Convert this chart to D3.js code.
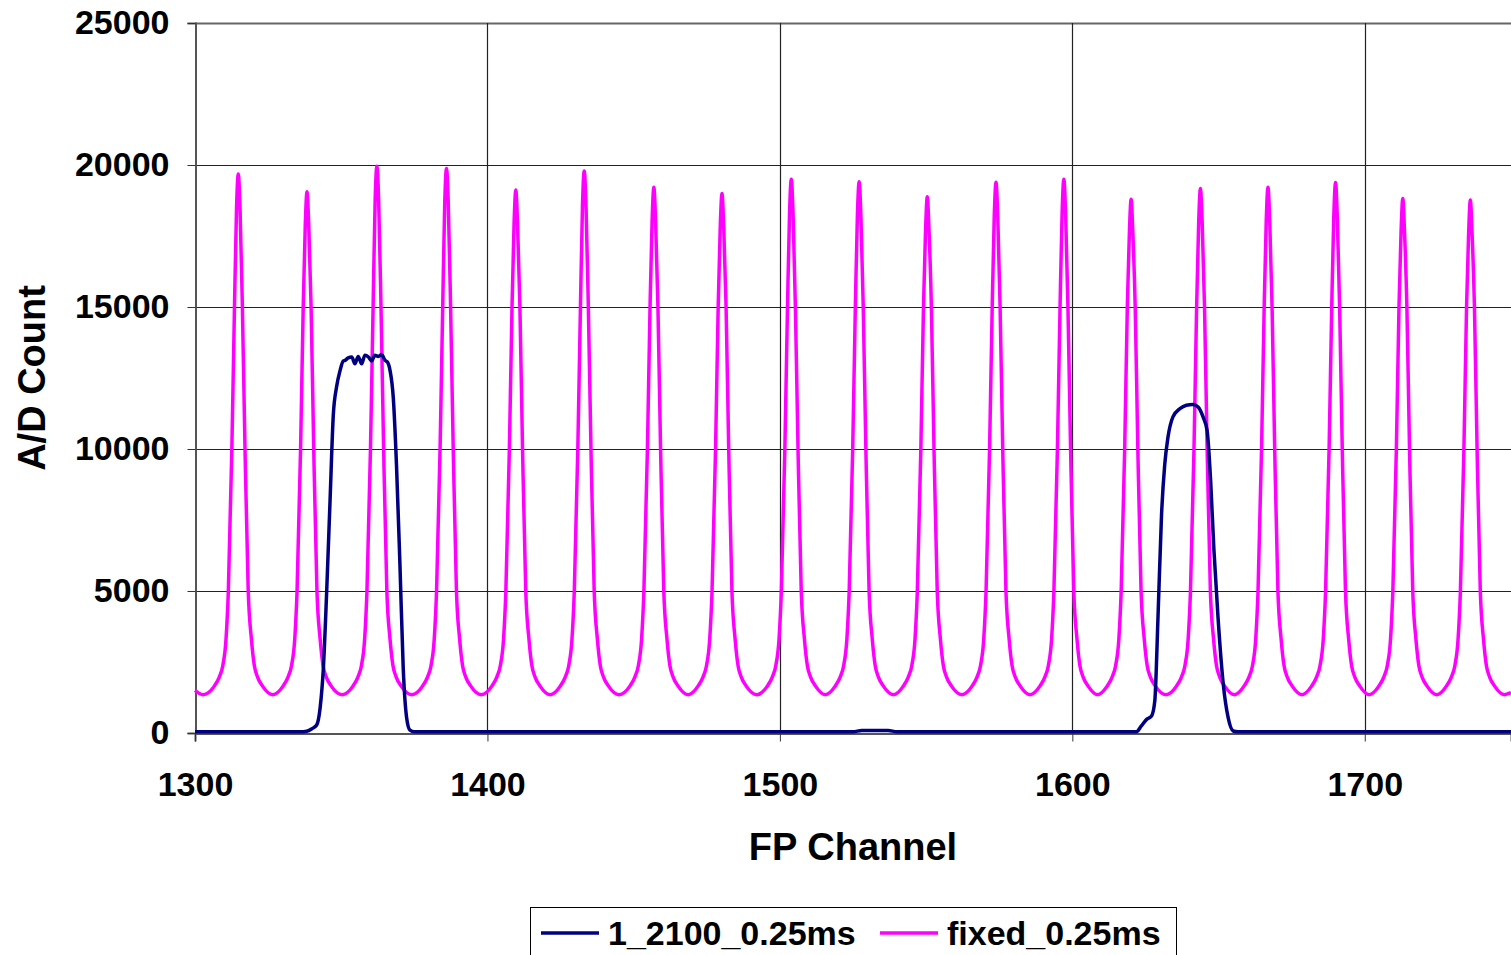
<!DOCTYPE html>
<html>
<head>
<meta charset="utf-8">
<script src="https://cdn.jsdelivr.net/npm/d3@7"></script>
<style>
	body { margin: 0; background: #fff; }
	svg { display: block; font-family: "Liberation Sans", Arial, sans-serif; font-weight: bold; }
</style>
</head>
<body>
<div id="chart"></div>
<script>
// axis ticks
var xTicks = [1300, 1400, 1500, 1600, 1700];
var yTicks = [0, 5000, 10000, 15000, 20000, 25000];
var seriesNames = ["1_2100_0.25ms", "fixed_0.25ms"];

// series 1_2100_0.25ms : [FP channel, A/D count]
var scanCounts = [
	[1300, 40], [1336, 40], [1338.2, 60], [1340, 150], [1341.6, 280], [1342.8, 900],
	[1343.9, 2290], [1345.0, 4910], [1346.2, 8240], [1347.3, 11210], [1348.4, 12180],
	[1349.6, 12760], [1350.7, 13100], [1351.3, 13120], [1352.4, 13210], [1353.6, 13240],
	[1354.7, 13000], [1355.8, 13260], [1357.0, 13000], [1358.1, 13300], [1359.3, 13240],
	[1360.4, 13100], [1361.5, 13300], [1362.7, 13260], [1363.8, 13330], [1365.0, 13120],
	[1365.8, 13060], [1366.7, 12760], [1367.8, 11810], [1368.9, 9440], [1370.1, 5860],
	[1371.2, 2290], [1372.4, 510], [1373.5, 100], [1375, 40],
	[1525, 40], [1528, 90], [1537, 90], [1540, 40],
	[1621.9, 40], [1623.6, 250], [1625.4, 480], [1627.1, 600], [1628.2, 1130],
	[1629.3, 4100], [1630.5, 7680], [1631.6, 9460], [1632.7, 10410], [1634.4, 11130],
	[1636.8, 11420], [1639.0, 11540], [1641.3, 11570], [1643.0, 11480], [1644.7, 11130],
	[1646.1, 10640], [1647.3, 8860], [1648.4, 6480], [1649.8, 4100], [1651.6, 1730],
	[1653.3, 530], [1655.0, 70], [1656.7, 40], [1750, 40]
];

// series fixed_0.25ms : [FP channel, A/D count]
var fixedCounts = [
	[1300, 1500], [1302.7, 1350],
	[1306.6,1650],[1308.3,1970],[1309.5,2370],[1310.6,3300],[1311.4,5000],[1312.6,10000],[1313.5,15000],[1314.2,18480],[1314.8,19680],[1315.4,18480],[1316.2,15000],[1317.1,10000],[1318.2,5000],[1319.3,3300],[1320.3,2370],[1321.4,1970],[1323.1,1650],[1326.6,1350],
	[1330.1,1650],[1331.8,1970],[1333.0,2370],[1334.1,3300],[1334.9,5000],[1336.1,10000],[1337.0,15000],[1337.7,17860],[1338.3,19060],[1338.9,17860],[1339.7,15000],[1340.6,10000],[1341.7,5000],[1342.8,3300],[1343.8,2370],[1344.9,1970],[1346.6,1650],[1350.3,1350],
	[1354.0,1650],[1355.7,1970],[1356.9,2370],[1358.0,3300],[1358.8,5000],[1360.0,10000],[1360.9,15000],[1361.6,18760],[1362.2,19960],[1362.8,18760],[1363.6,15000],[1364.5,10000],[1365.6,5000],[1366.7,3300],[1367.7,2370],[1368.8,1970],[1370.5,1650],[1374.1,1350],
	[1377.8,1650],[1379.5,1970],[1380.7,2370],[1381.8,3300],[1382.6,5000],[1383.8,10000],[1384.7,15000],[1385.4,18680],[1386.0,19880],[1386.6,18680],[1387.4,15000],[1388.3,10000],[1389.4,5000],[1390.5,3300],[1391.5,2370],[1392.6,1970],[1394.3,1650],[1397.9,1350],
	[1401.5,1650],[1403.2,1970],[1404.4,2370],[1405.5,3300],[1406.3,5000],[1407.5,10000],[1408.4,15000],[1409.1,17920],[1409.7,19120],[1410.3,17920],[1411.1,15000],[1412.0,10000],[1413.1,5000],[1414.2,3300],[1415.2,2370],[1416.3,1970],[1418.0,1650],[1421.4,1350],
	[1424.9,1650],[1426.6,1970],[1427.8,2370],[1428.9,3300],[1429.7,5000],[1430.9,10000],[1431.8,15000],[1432.5,18590],[1433.1,19790],[1433.7,18590],[1434.5,15000],[1435.4,10000],[1436.5,5000],[1437.6,3300],[1438.6,2370],[1439.7,1970],[1441.4,1650],[1445.0,1350],
	[1448.7,1650],[1450.4,1970],[1451.6,2370],[1452.7,3300],[1453.5,5000],[1454.7,10000],[1455.6,15000],[1456.3,18020],[1456.9,19220],[1457.5,18020],[1458.3,15000],[1459.2,10000],[1460.3,5000],[1461.4,3300],[1462.4,2370],[1463.5,1970],[1465.2,1650],[1468.6,1350],
	[1472.0,1650],[1473.7,1970],[1474.9,2370],[1476.0,3300],[1476.8,5000],[1478.0,10000],[1478.9,15000],[1479.6,17800],[1480.2,19000],[1480.8,17800],[1481.6,15000],[1482.5,10000],[1483.6,5000],[1484.7,3300],[1485.7,2370],[1486.8,1970],[1488.5,1650],[1492.1,1350],
	[1495.7,1650],[1497.4,1970],[1498.6,2370],[1499.7,3300],[1500.5,5000],[1501.7,10000],[1502.6,15000],[1503.3,18300],[1503.9,19500],[1504.5,18300],[1505.3,15000],[1506.2,10000],[1507.3,5000],[1508.4,3300],[1509.4,2370],[1510.5,1970],[1512.2,1650],[1515.5,1350],
	[1518.9,1650],[1520.6,1970],[1521.8,2370],[1522.9,3300],[1523.7,5000],[1524.9,10000],[1525.8,15000],[1526.5,18210],[1527.1,19410],[1527.7,18210],[1528.5,15000],[1529.4,10000],[1530.5,5000],[1531.6,3300],[1532.6,2370],[1533.7,1970],[1535.4,1650],[1538.8,1350],
	[1542.2,1650],[1543.9,1970],[1545.1,2370],[1546.2,3300],[1547.0,5000],[1548.2,10000],[1549.1,15000],[1549.8,17680],[1550.4,18880],[1551.0,17680],[1551.8,15000],[1552.7,10000],[1553.8,5000],[1554.9,3300],[1555.9,2370],[1557.0,1970],[1558.7,1650],[1562.2,1350],
	[1565.7,1650],[1567.4,1970],[1568.6,2370],[1569.7,3300],[1570.5,5000],[1571.7,10000],[1572.6,15000],[1573.3,18190],[1573.9,19390],[1574.5,18190],[1575.3,15000],[1576.2,10000],[1577.3,5000],[1578.4,3300],[1579.4,2370],[1580.5,1970],[1582.2,1650],[1585.5,1350],
	[1588.9,1650],[1590.6,1970],[1591.8,2370],[1592.9,3300],[1593.7,5000],[1594.9,10000],[1595.8,15000],[1596.5,18300],[1597.1,19500],[1597.7,18300],[1598.5,15000],[1599.4,10000],[1600.5,5000],[1601.6,3300],[1602.6,2370],[1603.7,1970],[1605.4,1650],[1608.6,1350],
	[1611.9,1650],[1613.6,1970],[1614.8,2370],[1615.9,3300],[1616.7,5000],[1617.9,10000],[1618.8,15000],[1619.5,17590],[1620.1,18790],[1620.7,17590],[1621.5,15000],[1622.4,10000],[1623.5,5000],[1624.6,3300],[1625.6,2370],[1626.7,1970],[1628.4,1650],[1632.0,1350],
	[1635.6,1650],[1637.3,1970],[1638.5,2370],[1639.6,3300],[1640.4,5000],[1641.6,10000],[1642.5,15000],[1643.2,17970],[1643.8,19170],[1644.4,17970],[1645.2,15000],[1646.1,10000],[1647.2,5000],[1648.3,3300],[1649.3,2370],[1650.4,1970],[1652.1,1650],[1655.4,1350],
	[1658.7,1650],[1660.4,1970],[1661.6,2370],[1662.7,3300],[1663.5,5000],[1664.7,10000],[1665.6,15000],[1666.3,18020],[1666.9,19220],[1667.5,18020],[1668.3,15000],[1669.2,10000],[1670.3,5000],[1671.4,3300],[1672.4,2370],[1673.5,1970],[1675.2,1650],[1678.5,1350],
	[1681.8,1650],[1683.5,1970],[1684.7,2370],[1685.8,3300],[1686.6,5000],[1687.8,10000],[1688.7,15000],[1689.4,18180],[1690.0,19380],[1690.6,18180],[1691.4,15000],[1692.3,10000],[1693.4,5000],[1694.5,3300],[1695.5,2370],[1696.6,1970],[1698.3,1650],[1701.5,1350],
	[1704.8,1650],[1706.5,1970],[1707.7,2370],[1708.8,3300],[1709.6,5000],[1710.8,10000],[1711.7,15000],[1712.4,17620],[1713.0,18820],[1713.6,17620],[1714.4,15000],[1715.3,10000],[1716.4,5000],[1717.5,3300],[1718.5,2370],[1719.6,1970],[1721.3,1650],[1724.6,1350],
	[1727.9,1650],[1729.6,1970],[1730.8,2370],[1731.9,3300],[1732.7,5000],[1733.9,10000],[1734.8,15000],[1735.5,17570],[1736.1,18770],[1736.7,17570],[1737.5,15000],[1738.4,10000],[1739.5,5000],[1740.6,3300],[1741.6,2370],[1742.7,1970],[1744.4,1650],[1747.8,1350],
	[1750, 1420]
];

var w = 1511, h = 955;
var plotLeft = 195, plotTop = 23, plotRight = 1511, plotBottom = 733;

var svg = d3.select("#chart").append("svg")
	.attr("width", w)
	.attr("height", h);

var x = d3.scaleLinear().domain([1300, 1750]).range([plotLeft, plotRight]);
var y = d3.scaleLinear().domain([0, 25000]).range([plotBottom, plotTop]);

// grid
svg.append("g").selectAll("line")
	.data(yTicks.slice(1))
	.enter().append("line")
	.attr("x1", plotLeft).attr("x2", plotRight)
	.attr("y1", function (d) { return Math.round(y(d)) + 0.5; })
	.attr("y2", function (d) { return Math.round(y(d)) + 0.5; })
	.attr("stroke", function (d) { return d == 25000 ? "#666" : "#222"; })
	.attr("stroke-width", function (d) { return d == 25000 ? 2 : 1.2; });
svg.append("g").selectAll("line")
	.data(xTicks.slice(1))
	.enter().append("line")
	.attr("y1", plotTop).attr("y2", plotBottom)
	.attr("x1", function (d) { return Math.round(x(d)) + 0.5; })
	.attr("x2", function (d) { return Math.round(x(d)) + 0.5; })
	.attr("stroke", "#222").attr("stroke-width", 1.2);

// axes
var yAxis = svg.append("g")
	.attr("transform", "translate(" + (plotLeft + 0.5) + ",0)")
	.call(d3.axisLeft(y).tickValues(yTicks).tickSize(8).tickPadding(18).tickFormat(d3.format("d")));
var xAxis = svg.append("g")
	.attr("transform", "translate(0," + (plotBottom + 0.5) + ")")
	.call(d3.axisBottom(x).tickValues(xTicks).tickSize(8).tickPadding(30).tickFormat(d3.format("d")));
[yAxis, xAxis].forEach(function (a) {
	a.select(".domain").attr("stroke", "#555").attr("stroke-width", 2);
	a.selectAll(".tick line").attr("stroke", "#333");
	a.selectAll("text")
		.attr("fill", "#000")
		.style("font-size", "34px")
		.style("font-weight", "bold")
		.style("font-family", "'Liberation Sans', Arial, sans-serif");
});

// lines
var line = d3.line()
	.x(function (d) { return x(d[0]); })
	.y(function (d) { return y(d[1]); })
	.curve(d3.curveMonotoneX);

svg.append("path")
	.datum(fixedCounts)
	.attr("d", line)
	.attr("fill", "none")
	.attr("stroke", "#ff00ff")
	.attr("stroke-width", 3.5);

svg.append("path")
	.datum(scanCounts)
	.attr("d", line)
	.attr("fill", "none")
	.attr("stroke", "#000080")
	.attr("stroke-width", 3.5);

// axis titles
svg.append("text")
	.attr("x", 853).attr("y", 860)
	.attr("text-anchor", "middle")
	.style("font-size", "38px")
	.text("FP Channel");
svg.append("text")
	.attr("transform", "translate(45,378) rotate(-90)")
	.attr("text-anchor", "middle")
	.style("font-size", "38px")
	.text("A/D Count");

// legend
var legend = svg.append("g");
legend.append("rect")
	.attr("x", 530.5).attr("y", 907.5)
	.attr("width", 646).attr("height", 60)
	.attr("fill", "#fff").attr("stroke", "#000").attr("stroke-width", 1);
var legendColors = ["#000080", "#ff00ff"];
var legendX = [541, 880];
seriesNames.forEach(function (name, i) {
	legend.append("line")
		.attr("x1", legendX[i]).attr("x2", legendX[i] + 58)
		.attr("y1", 933).attr("y2", 933)
		.attr("stroke", legendColors[i]).attr("stroke-width", 3.5);
	legend.append("text")
		.attr("x", legendX[i] + 67).attr("y", 945)
		.style("font-size", "34px")
		.text(name);
});
</script>
</body>
</html>
